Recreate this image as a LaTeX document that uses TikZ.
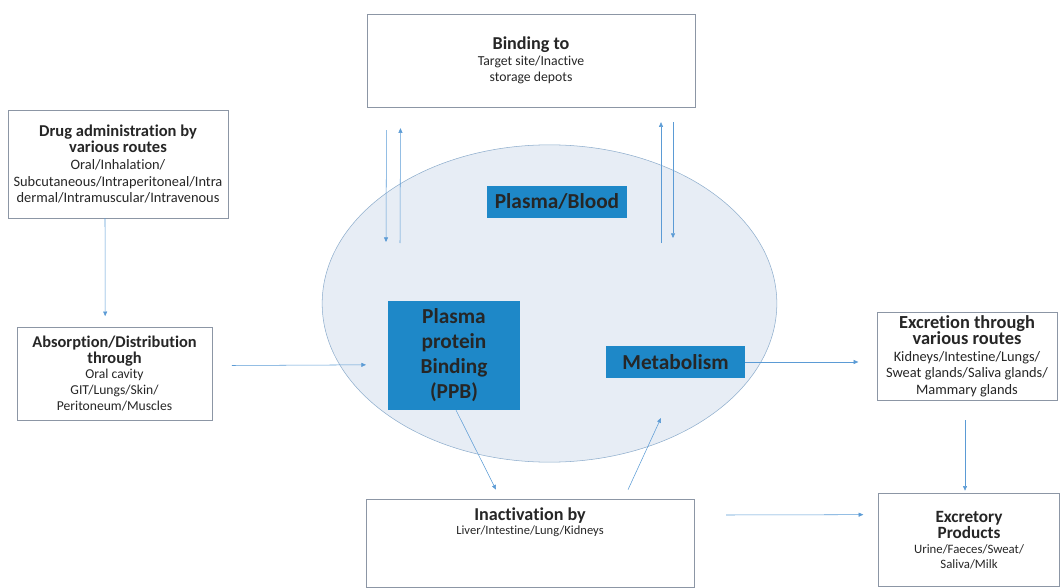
\documentclass[tikz,border=0pt]{standalone}
\usepackage{fontspec}
\setmainfont{Carlito}[Ligatures=NoCommon]
\usetikzlibrary{positioning, shapes.geometric, arrows.meta}
\definecolor{boxblue}{RGB}{30,136,200}
\definecolor{bloodfill}{RGB}{231,237,245}
\definecolor{bloodline}{RGB}{143,174,205}
\definecolor{flowblue}{RGB}{91,155,213}
\definecolor{stageline}{RGB}{140,150,165}
\newcommand{\hd}[2][12]{{\fontsize{#1}{1.25\dimexpr#1pt\relax}\selectfont\bfseries #2}}
\newcommand{\sz}[1]{\fontsize{#1}{1.15\dimexpr#1pt\relax}\selectfont}

\begin{document}
\begin{tikzpicture}
    [x = 0.75pt, y = -0.75pt, outer sep = 0pt,
      stage/.style={rectangle, draw=stageline, fill=white, thin, align=center,
        inner sep=0pt, text=black!85},
      organ/.style={rectangle, fill=boxblue, align=center, inner sep=0pt,
        text=black!85, font=\fontsize{16}{18.75}\selectfont\bfseries},
      flow/.style={draw=flowblue, thin, -{Triangle[length=3.5pt, width=3pt]}}]
    \useasboundingbox (0,0) rectangle (1063,588);

    % plasma compartment
    \node (blood) [ellipse, draw=bloodline, fill=bloodfill, inner sep=0pt,
    minimum width=341pt, minimum height=238pt] at (549.5,303.5) {};
    \node (plasma) [organ, minimum width=105pt, minimum height=24pt] at (557,202) {Plasma/Blood};
    \node (ppb) [organ, minimum width=99pt, minimum height=82pt] at (454,355.5)
    {Plasma\\protein\\Binding\\(PPB)};
    \node (metab) [organ, minimum width=104pt, minimum height=24pt] at (675.5,362) {Metabolism};

    % outer boxes
    \node (drug) [stage, minimum width=165pt, minimum height=81pt, font=\sz{10.8}] at (118,164)
    {\hd[12.4]{Drug administration by}\\\hd[12.4]{various routes}\\Oral/Inhalation/\\
      Subcutaneous/Intraperitoneal/Intra\\dermal/Intramuscular/Intravenous};
    \node (absorb) [stage, minimum width=146pt, minimum height=70pt, font=\sz{10.2}] at (114.5,373.5)
    {\hd[12.3]{Absorption/Distribution}\\\hd[12.3]{through}\\Oral cavity\\GIT/Lungs/Skin/\\Peritoneum/Muscles};
    \node (bind) [stage, minimum width=246pt, minimum height=70pt, font=\sz{10.3}] at (531,60.5)
    {\hd[13.6]{Binding to}\\Target site/Inactive\\storage depots};
    \node (inact) [stage, minimum width=246pt, minimum height=66pt, font=\sz{9.4}] at (530,543)
    {\hd[13.6]{Inactivation by}\\Liver/Intestine/Lung/Kidneys\\[22pt]\mbox{}};
    \node (excr) [stage, minimum width=135pt, minimum height=66pt, font=\sz{10.8}] at (967,356)
    {\hd[13.8]{Excretion through}\\\hd[13.8]{various routes}\\Kidneys/Intestine/Lungs/\\
      Sweat glands/Saliva glands/\\Mammary glands};
    \node (prod) [stage, minimum width=136pt, minimum height=70pt, font=\sz{9.6}] at (969,540)
    {\hd[12.9]{Excretory}\\\hd[12.9]{Products}\\Urine/Faeces/Sweat/\\Saliva/Milk};

    % free ends inside the plasma
    \coordinate (in-a) at (386,242);
    \coordinate (in-b) at (400,243);
    \coordinate (in-c) at (661,243);
    \coordinate (in-d) at (673,238);

    \draw [flow] ([xshift=-9.75pt]drug.south) -- ([xshift=-7pt, yshift=8pt]absorb.north);
    \draw [flow] ([xshift=15pt, yshift=6pt]absorb.east) -- ([xshift=-16.5pt, yshift=-7pt]ppb.west);
    \draw [flow] ([xshift=-108.4pt, yshift=-17.25pt]bind.south) -- (in-a);
    \draw [flow] (in-b) -- ([xshift=-97.9pt, yshift=-15.75pt]bind.south);
    \draw [flow] (in-c) -- ([xshift=97.5pt, yshift=-11.25pt]bind.south);
    \draw [flow] ([xshift=106.5pt, yshift=-11.25pt]bind.south) -- (in-d);
    \draw [flow] (metab.east) -- ([xshift=-14pt, yshift=-4.5pt]excr.west);
    \draw [flow] ([xshift=1.5pt]ppb.south) -- ([xshift=-25.5pt, yshift=7pt]inact.north);
    \draw [flow] ([xshift=73.5pt, yshift=7pt]inact.north) -- ([xshift=-10.9pt, yshift=-30pt]metab.south);
    \draw [flow] ([xshift=24pt, yshift=21pt]inact.east) -- ([xshift=-11.25pt, yshift=19pt]prod.west);
    \draw [flow] ([xshift=-1.5pt, yshift=-15pt]excr.south) -- ([xshift=-3pt, yshift=2pt]prod.north);
\end{tikzpicture}
\end{document}
